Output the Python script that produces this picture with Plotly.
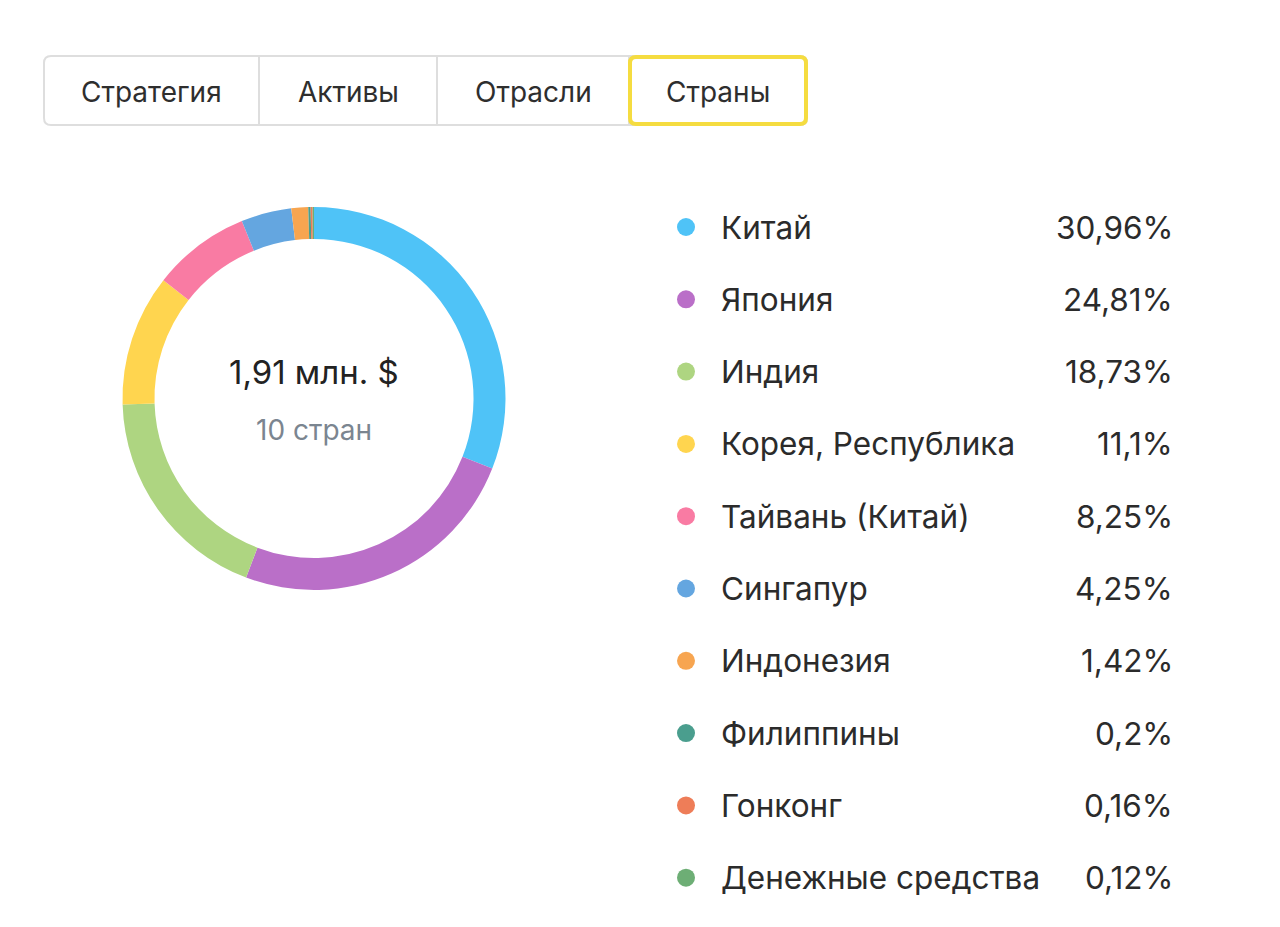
import plotly.graph_objects as go

# Data
countries = ["Китай", "Япония", "Индия", "Корея, Республика", "Тайвань (Китай)",
             "Сингапур", "Индонезия", "Филиппины", "Гонконг", "Денежные средства"]
shares = [30.96, 24.81, 18.73, 11.1, 8.25, 4.25, 1.42, 0.2, 0.16, 0.12]
colors = ["#4FC3F7", "#BA6FC8", "#AED581", "#FFD54F", "#F97BA3",
          "#64A6E0", "#F7A550", "#4A9E8E", "#EE7D58", "#6DAE75"]
tabs = ["Стратегия", "Активы", "Отрасли", "Страны"]
tab_edges = [44, 259, 437, 629, 807]
active_tab = "Страны"
total_label = "1,91 млн. $"
count_label = "10 стран"

W, H = 1280, 927
OX, OY = 8, 8  # page margin of the browser body
FONT = "Inter"

fig = go.Figure()

# donut
cx, cy, r = 314, 398.5, 191.5
fig.add_trace(go.Pie(
    values=shares, labels=countries, sort=False, direction="clockwise",
    rotation=0, hole=0.833, textinfo="none", hoverinfo="label+percent",
    marker=dict(colors=colors, line=dict(width=0)), showlegend=False,
    domain=dict(x=[(cx - OX - r) / W, (cx - OX + r) / W],
                y=[1 - (cy - OY + r) / H, 1 - (cy - OY - r) / H]),
))

# legend rows
row_y0, row_step = 227, 72.3
row_y = [row_y0 + i * row_step for i in range(len(countries))]
fig.add_trace(go.Scatter(
    x=[686] * len(countries), y=row_y, mode="markers",
    marker=dict(size=18, color=colors), hoverinfo="skip", showlegend=False,
))

annotations = []
for name, val, y in zip(countries, shares, row_y):
    annotations.append(dict(x=719, y=y, xref="x", yref="y", text=name, showarrow=False,
                            xanchor="left", yanchor="middle",
                            font=dict(family=FONT, size=31.5, color="#2B2B2B")))
    annotations.append(dict(x=1175, y=y, xref="x", yref="y",
                            text=str(val).replace(".", ",") + "%", showarrow=False,
                            xanchor="right", yanchor="middle",
                            font=dict(family=FONT, size=31.5, color="#2B2B2B")))

# centre text
annotations.append(dict(x=cx, y=372, xref="x", yref="y", text=total_label, showarrow=False,
                        xanchor="center", yanchor="middle",
                        font=dict(family=FONT, size=33, color="#222222")))
annotations.append(dict(x=cx, y=430, xref="x", yref="y", text=count_label, showarrow=False,
                        xanchor="center", yanchor="middle",
                        font=dict(family=FONT, size=28, color="#7B8590")))


def rounded_rect(x0, y0, x1, y1, rad):
    return (f"M{x0 + rad},{y0} L{x1 - rad},{y0} Q{x1},{y0} {x1},{y0 + rad} "
            f"L{x1},{y1 - rad} Q{x1},{y1} {x1 - rad},{y1} L{x0 + rad},{y1} "
            f"Q{x0},{y1} {x0},{y1 - rad} L{x0},{y0 + rad} Q{x0},{y0} {x0 + rad},{y0} Z")


# tabs
ty0, ty1 = 56, 125
shapes = [dict(type="path", path=rounded_rect(tab_edges[0], ty0, tab_edges[-1], ty1, 7),
               xref="x", yref="y", line=dict(color="#DEDEDE", width=2), fillcolor="white",
               layer="below")]
for i, t in enumerate(tabs):
    x0, x1 = tab_edges[i], tab_edges[i + 1]
    if i > 0:
        shapes.append(dict(type="line", x0=x0, x1=x0, y0=ty0, y1=ty1, xref="x", yref="y",
                           line=dict(color="#DEDEDE", width=2), layer="below"))
    if t == active_tab:
        shapes.append(dict(type="path", path=rounded_rect(x0 + 1, ty0 + 1, x1 - 1, ty1 - 1, 6),
                           xref="x", yref="y", line=dict(color="#F5DC40", width=4),
                           fillcolor="white", layer="above"))
    annotations.append(dict(x=(x0 + x1) / 2, y=(ty0 + ty1) / 2 + 1, xref="x", yref="y",
                            text=t, showarrow=False, xanchor="center", yanchor="middle",
                            font=dict(family=FONT, size=28, color="#2E2E2E")))

fig.update_layout(
    width=W, height=H, margin=dict(l=0, r=0, t=0, b=0),
    paper_bgcolor="white", plot_bgcolor="white",
    xaxis=dict(range=[OX, OX + W], visible=False, fixedrange=True),
    yaxis=dict(range=[OY + H, OY], visible=False, fixedrange=True),
    shapes=shapes, annotations=annotations,
)

fig.write_html("out.html", config={"displayModeBar": False})
